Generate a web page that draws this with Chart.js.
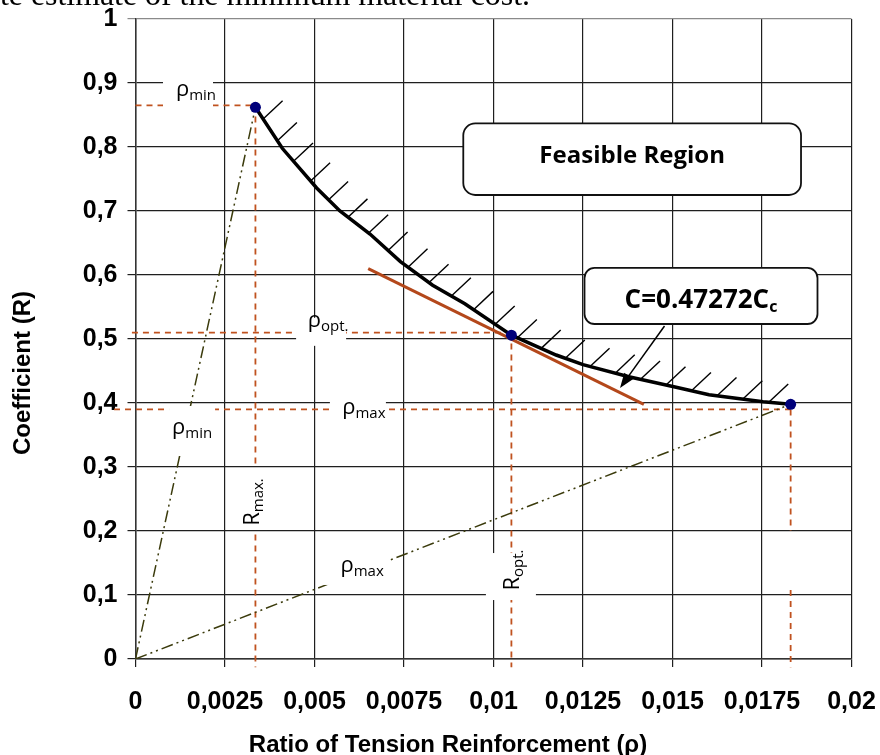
<!DOCTYPE html>
<html>
<head>
<meta charset="utf-8">
<script src="https://cdn.jsdelivr.net/npm/chart.js@4.4.0/dist/chart.umd.min.js"></script>
<style>
  html, body { margin: 0; padding: 0; background: #fff; }
  #grafico { display: block; }
</style>
</head>
<body>
<canvas id="grafico" width="880" height="755"></canvas>
<script>
// puntos notables: rho min, rho opt, rho max
const rhoPuntos = [0.00335, 0.0105, 0.0183];
const rPuntos = [0.862, 0.506, 0.398];

// frontera de la region factible
const curvaRho = [0.00335, 0.0041, 0.00506, 0.00571, 0.00655, 0.0074, 0.0083, 0.0092, 0.0105, 0.01175, 0.0125, 0.01378, 0.01507, 0.01602, 0.01753, 0.0183];
const curvaR = [0.862, 0.798, 0.736, 0.700, 0.664, 0.621, 0.584, 0.555, 0.506, 0.475, 0.460, 0.441, 0.425, 0.413, 0.402, 0.398];

// recta de costo tangente
const tangenteRho = [0.0065, 0.0142];
const tangenteR = [0.61, 0.398];

// lineas de referencia punteadas
const guiaR = [0.865, 0.51, 0.39];
const guiaInicio = [0, -0.0001, -0.0006];
const guiaFondo = -0.013;
const huecoRmax = [0.108, 0.2];

const etiquetasX = ['0', '0,0025', '0,005', '0,0075', '0,01', '0,0125', '0,015', '0,0175', '0,02'];
const etiquetasY = ['0', '0,1', '0,2', '0,3', '0,4', '0,5', '0,6', '0,7', '0,8', '0,9', '1'];

const tituloX = 'Ratio of Tension Reinforcement (ρ)';
const tituloY = 'Coefficient (R)';
const textoRegion = 'Feasible Region';
const textoCosto = ['C=0.47272C', 'c'];
const textoPagina = 'te estimate of the minimum material cost.';

// etiquetas de las guias: texto, subindice, punto base (datos), rotacion, caja blanca [dx, dy, w, h]
const etiquetasGuia = [
    { t: 'ρ', s: 'min', x: 0.00169, y: 0.879, rot: 0, caja: [-8, -1.5, 50, 30] },
    { t: 'ρ', s: 'opt.', x: 0.00538, y: 0.519, rot: 0, caja: [-7, 5, 50, 28] },
    { t: 'ρ', s: 'max', x: 0.00638, y: 0.3828, rot: 0, caja: [-6, -8, 56, 22] },
    { t: 'ρ', s: 'min', x: 0.00158, y: 0.3516, rot: 0, caja: [0, -3, 46, 50] },
    { t: 'R', s: 'max.', x: 0.00344, y: 0.2453, rot: -90, caja: [-3.7, -3, 26, 62] },
    { t: 'R', s: 'opt.', x: 0.01071, y: 0.139, rot: -90, caja: [-8, 6.5, 50, 47] },
    { t: 'ρ', s: 'max', x: 0.00633, y: 0.136, rot: 0, caja: [-8, -3, 68, 32] }
];

// cajas de texto (esquinas en datos) y flecha
const cajaRegion = [0.009156, 0.837, 0.01859, 0.725];
const cajaCosto = [0.012542, 0.611, 0.01905, 0.5234];
const flecha = [0.014777, 0.5203, 0.013534, 0.4234];

const puntos = rhoPuntos.map((x, i) => ({ x: x, y: rPuntos[i] }));
const curva = curvaRho.map((x, i) => ({ x: x, y: curvaR[i] }));
const tangente = tangenteRho.map((x, i) => ({ x: x, y: tangenteR[i] }));

const guias = [];
guiaR.forEach((r, i) => {
    guias.push({ x: guiaInicio[i], y: r }, { x: rhoPuntos[i], y: r }, { x: rhoPuntos[i], y: null });
});
guias.push({ x: rhoPuntos[0], y: guiaR[0] }, { x: rhoPuntos[0], y: guiaFondo }, { x: rhoPuntos[0], y: null });
guias.push({ x: rhoPuntos[1], y: guiaR[1] }, { x: rhoPuntos[1], y: guiaFondo }, { x: rhoPuntos[1], y: null });
guias.push({ x: rhoPuntos[2], y: guiaR[2] }, { x: rhoPuntos[2], y: huecoRmax[1] }, { x: rhoPuntos[2], y: null });
guias.push({ x: rhoPuntos[2], y: huecoRmax[0] }, { x: rhoPuntos[2], y: guiaFondo });

function aPx(chart, x, y) {
    return [chart.scales.x.getPixelForValue(x), chart.scales.y.getPixelForValue(y)];
}

function textoSub(ctx, base, sub, tam, tamSub, peso) {
    ctx.font = peso + ' ' + tam + 'px "Open Sans"';
    const w1 = ctx.measureText(base).width;
    ctx.font = peso + ' ' + tamSub + 'px "Open Sans"';
    const w2 = ctx.measureText(sub).width;
    const x0 = -(w1 + w2) / 2;
    ctx.textAlign = 'left';
    ctx.textBaseline = 'alphabetic';
    ctx.font = peso + ' ' + tam + 'px "Open Sans"';
    ctx.fillText(base, x0, 0);
    ctx.font = peso + ' ' + tamSub + 'px "Open Sans"';
    ctx.fillText(sub, x0 + w1, 4);
}

function cajaRedonda(ctx, chart, c, radio) {
    const [x1, y1] = aPx(chart, c[0], c[1]);
    const [x2, y2] = aPx(chart, c[2], c[3]);
    ctx.beginPath();
    ctx.roundRect(x1, y1, x2 - x1, y2 - y1, radio);
    ctx.fillStyle = '#fff';
    ctx.fill();
    ctx.lineWidth = 1.8;
    ctx.strokeStyle = '#111';
    ctx.stroke();
    return [(x1 + x2) / 2, (y1 + y2) / 2];
}

const decoraciones = {
    id: 'decoraciones',
    afterDatasetsDraw(chart) {
        const ctx = chart.ctx;
        ctx.save();

        // rayado sobre la frontera
        const pts = chart.getDatasetMeta(1).data.map(p => [p.x, p.y]);
        const acum = [0];
        for (let i = 1; i < pts.length; i++) {
            acum.push(acum[i - 1] + Math.hypot(pts[i][0] - pts[i - 1][0], pts[i][1] - pts[i - 1][1]));
        }
        const total = acum[acum.length - 1];
        const n = 24;
        const s0 = 14, s1 = total - 22;
        ctx.strokeStyle = '#000';
        ctx.lineWidth = 1.4;
        for (let k = 0; k < n; k++) {
            const s = s0 + (s1 - s0) * k / (n - 1);
            let j = 1;
            while (j < acum.length - 1 && acum[j] < s) j++;
            const f = (s - acum[j - 1]) / (acum[j] - acum[j - 1]);
            const bx = pts[j - 1][0] + f * (pts[j][0] - pts[j - 1][0]);
            const by = pts[j - 1][1] + f * (pts[j][1] - pts[j - 1][1]);
            ctx.beginPath();
            ctx.moveTo(bx, by);
            ctx.lineTo(bx + 19.5, by - 18.3);
            ctx.stroke();
        }

        // etiquetas de las guias
        etiquetasGuia.forEach(e => {
            const [px, py] = aPx(chart, e.x, e.y);
            const [dx, dy, w, h] = e.caja;
            ctx.fillStyle = '#fff';
            ctx.fillRect(px + dx - w / 2, py + dy - h / 2, w, h);
            ctx.save();
            ctx.translate(px, py);
            ctx.rotate(e.rot * Math.PI / 180);
            ctx.fillStyle = '#000';
            textoSub(ctx, e.t, e.s, 22, 15, 'normal');
            ctx.restore();
        });

        // caja de la region factible
        let [cx, cy] = cajaRedonda(ctx, chart, cajaRegion, 12);
        ctx.fillStyle = '#000';
        ctx.font = 'bold 24px "Open Sans"';
        ctx.textAlign = 'center';
        ctx.textBaseline = 'alphabetic';
        ctx.fillText(textoRegion, cx, cy + 4);

        // caja del costo
        [cx, cy] = cajaRedonda(ctx, chart, cajaCosto, 10);
        ctx.save();
        ctx.translate(cx, cy + 12);
        ctx.fillStyle = '#000';
        textoSub(ctx, textoCosto[0], textoCosto[1], 26, 16, 'bold');
        ctx.restore();

        // flecha hacia la recta tangente
        const [ax, ay] = aPx(chart, flecha[0], flecha[1]);
        const [bx, by] = aPx(chart, flecha[2], flecha[3]);
        const ang = Math.atan2(by - ay, bx - ax);
        ctx.strokeStyle = '#000';
        ctx.lineWidth = 1.5;
        ctx.beginPath();
        ctx.moveTo(ax, ay);
        ctx.lineTo(bx - 10 * Math.cos(ang), by - 10 * Math.sin(ang));
        ctx.stroke();
        ctx.fillStyle = '#000';
        ctx.beginPath();
        ctx.moveTo(bx, by);
        ctx.lineTo(bx - 15 * Math.cos(ang) + 5.5 * Math.sin(ang), by - 15 * Math.sin(ang) - 5.5 * Math.cos(ang));
        ctx.lineTo(bx - 15 * Math.cos(ang) - 5.5 * Math.sin(ang), by - 15 * Math.sin(ang) + 5.5 * Math.cos(ang));
        ctx.closePath();
        ctx.fill();

        ctx.restore();
    },
    afterDraw(chart) {
        const ctx = chart.ctx;
        ctx.save();
        ctx.fillStyle = '#000';

        // titulos de los ejes
        ctx.font = 'bold 24px "Liberation Sans"';
        ctx.textAlign = 'center';
        ctx.textBaseline = 'middle';
        ctx.fillText(tituloX, 448, 745);
        ctx.save();
        ctx.translate(23, 373);
        ctx.rotate(-Math.PI / 2);
        ctx.fillText(tituloY, 0, 0);
        ctx.restore();

        // renglon del texto de la pagina, cortado arriba
        ctx.font = '100px "Liberation Serif"';
        const tam = 100 * 530 / ctx.measureText(textoPagina).width;
        ctx.font = tam + 'px "Liberation Serif"';
        ctx.textAlign = 'left';
        ctx.textBaseline = 'alphabetic';
        ctx.fillText(textoPagina, 0, 5);
        ctx.restore();
    }
};

const grafico = new Chart(document.getElementById('grafico').getContext('2d'), {
    type: 'scatter',
    data: {
        datasets: [
            { label: 'puntos', data: puntos, pointRadius: 5.5, pointBackgroundColor: '#00007a', pointBorderWidth: 0 },
            { label: 'frontera', data: curva, showLine: true, borderColor: '#000', borderWidth: 3.5, pointRadius: 0, tension: 0 },
            { label: 'tangente', data: tangente, showLine: true, borderColor: '#b4481b', borderWidth: 3, pointRadius: 0 },
            { label: 'rhoMin', data: [{ x: 0, y: 0 }, puntos[0]], showLine: true, borderColor: '#3b3b0c', borderWidth: 1.5, borderDash: [12, 4, 2, 4, 2, 4], pointRadius: 0 },
            { label: 'rhoMax', data: [{ x: 0, y: 0 }, puntos[2]], showLine: true, borderColor: '#3b3b0c', borderWidth: 1.5, borderDash: [12, 4, 2, 4, 2, 4], pointRadius: 0 },
            { label: 'guias', data: guias, showLine: true, spanGaps: false, clip: false, borderColor: '#c0521f', borderWidth: 1.8, borderDash: [6, 5], pointRadius: 0 }
        ]
    },
    options: {
        responsive: false,
        animation: false,
        devicePixelRatio: 1,
        layout: { padding: { left: 0, top: 19, right: 28.5, bottom: 0 } },
        plugins: { legend: { display: false }, tooltip: { enabled: false } },
        scales: {
            x: {
                type: 'linear',
                min: 0,
                max: 0.02,
                afterFit: (s) => { s.height = 96; },
                ticks: {
                    stepSize: 0.0025,
                    autoSkip: false,
                    maxRotation: 0,
                    padding: 0,
                    color: '#000',
                    // el alto de linea baja las etiquetas sin agregar margen lateral
                    font: { family: 'Liberation Sans', weight: 'bold', size: 25, lineHeight: 2.8 },
                    callback: (v, i) => etiquetasX[i]
                },
                grid: { color: '#1f1f1f', lineWidth: 1.2, tickLength: 8 },
                border: { color: '#333', width: 1.5 }
            },
            y: {
                min: 0,
                max: 1,
                afterFit: (s) => { s.width = 135.5; },
                ticks: {
                    stepSize: 0.1,
                    padding: 10,
                    color: '#000',
                    font: { family: 'Liberation Sans', weight: 'bold', size: 25, lineHeight: 0.7 },
                    callback: (v, i) => etiquetasY[i]
                },
                grid: {
                    color: (c) => (c.tick && c.tick.value === 1 ? '#8a8a8a' : '#1f1f1f'),
                    lineWidth: 1.2,
                    tickLength: 8
                },
                border: { color: '#333', width: 1.5 }
            }
        }
    },
    plugins: [decoraciones]
});
</script>
</body>
</html>
